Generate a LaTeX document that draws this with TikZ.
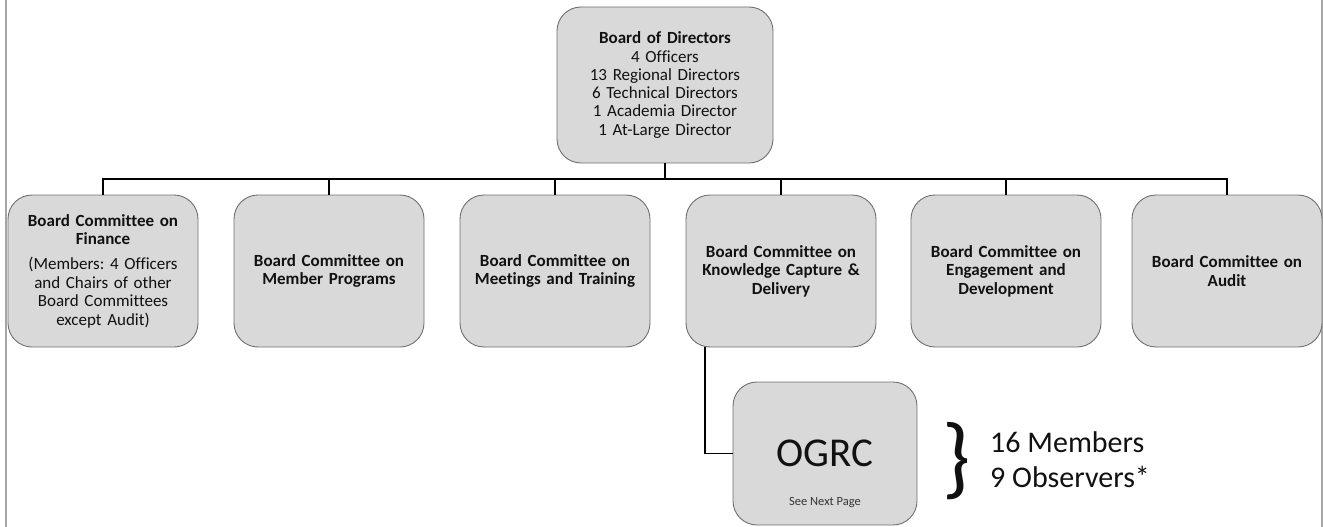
\documentclass[tikz,border=0pt]{standalone}
\usepackage{fontspec}
\setmainfont{Carlito}[Ligatures=CommonOff]
\frenchspacing
\definecolor{boxfill}{HTML}{D9D9D9}
\definecolor{boxline}{HTML}{707070}
\definecolor{framegray}{HTML}{A6A6A6}
\definecolor{inktext}{HTML}{111111}
\begin{document}
\begin{tikzpicture}[x=1pt,y=-1pt,
  box/.style={draw=boxline, fill=boxfill, rounded corners=24pt, line width=0.9pt,
    align=center, inner sep=2pt, text=inktext},
  board/.style={box, minimum width=216pt, minimum height=156pt, text width=206pt,
    font=\fontsize{17}{18.3}\selectfont},
  committee/.style={box, minimum width=190pt, minimum height=152pt, text width=182pt,
    font=\bfseries\fontsize{17}{18.4}\selectfont},
  group/.style={box, minimum width=184pt, minimum height=143pt,
    font=\fontsize{41}{44}\selectfont},
  note/.style={font=\fontsize{12.5}{14}\selectfont, text=inktext!85, inner sep=0pt},
  tally/.style={font=\fontsize{30}{35}\selectfont, text=inktext, align=left, inner sep=0pt},
  link/.style={draw=black, line width=1.3pt},
  edge line/.style={draw=framegray, line width=2pt},
]
\useasboundingbox (0,0) rectangle (1323,527);

% page edges
\draw[edge line] (6,0) -- (6,527);
\draw[edge line] (1322,0) -- (1322,527);

% board
\node[board] (top) at (665,85) {\textbf{Board of Directors}\\4 Officers\\13 Regional Directors\\6 Technical Directors\\1 Academia Director\\1 At-Large Director};

% committees
\node[committee] (c1) at (103,271) {Board Committee on\\Finance\\[7pt]\mdseries (Members: 4 Officers\\and Chairs of other\\Board Committees\\except Audit)};
\node[committee] (c2) at (329,271) {Board Committee on\\Member Programs};
\node[committee] (c3) at (555,271) {Board Committee on\\Meetings and Training};
\node[committee] (c4) at (781,271) {Board Committee on\\Knowledge Capture \&\\Delivery};
\node[committee] (c5) at (1006,271) {Board Committee on\\Engagement and\\Development};
\node[committee] (c6) at (1227,271) {Board Committee on\\Audit};

% bus from the board to the committees
\coordinate (bus) at (665,179);
\draw[link] (top.south) -- (bus);
\draw[link] (c1.north) |- (bus) -| (c6.north);
\foreach \c in {c2,c3,c4,c5} \draw[link] (\c.north) -- (\c.north |- bus);

% OGRC under knowledge capture
\node[group] (ogrc) at (825,453.5) {OGRC};
\node[note] (next) at (825,503) {See Next Page};
\draw[link] ([xshift=-76pt]c4.south) |- (ogrc.west);

% membership summary
\node[inner sep=0pt, font=\fontsize{90}{90}\selectfont, text=inktext] (brace) at (957,461) {\}};
\node[tally, anchor=west] (tally) at (990,459.5) {16 Members\\9 Observers*};
\end{tikzpicture}
\end{document}
